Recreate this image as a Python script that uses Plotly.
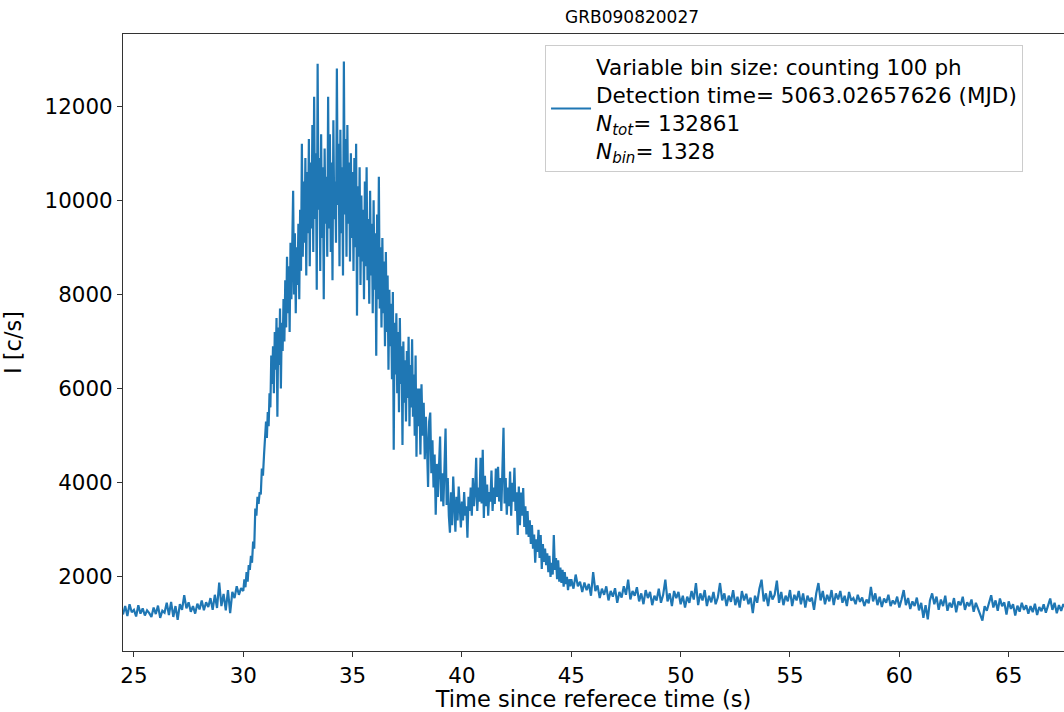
import plotly.graph_objects as go

# ---------------- data ----------------
title_text = "GRB090820027"
x_label = "Time since referece time (s)"
y_label = "I [c/s]"
legend_label = ("Variable bin size: counting 100 ph<br>"
                "Detection time= 5063.02657626 (MJD)<br>"
                "<i>N</i><sub><i>tot</i></sub>= 132861<br>"
                "<i>N</i><sub><i>bin</i></sub>= 1328")
x_ticks = [25, 30, 35, 40, 45, 50, 55, 60, 65]
y_ticks = [2000, 4000, 6000, 8000, 10000, 12000]

# pre-burst background
time_pre = [24.5, 24.6, 24.7, 24.8, 24.9, 25.0, 25.1, 25.2, 25.3, 25.4,
            25.5, 25.6, 25.7, 25.8, 25.9, 26.0, 26.1, 26.2, 26.3, 26.4,
            26.5, 26.6, 26.7, 26.8, 26.9, 27.0, 27.1, 27.2, 27.3, 27.4,
            27.5, 27.6, 27.7, 27.8, 27.9, 28.0, 28.1, 28.2, 28.3, 28.4,
            28.5, 28.6, 28.7, 28.8, 28.9, 29.0, 29.1, 29.2, 29.3, 29.4,
            29.5, 29.6, 29.7, 29.8, 29.9]
rate_pre = [1200, 1380, 1170, 1420, 1250, 1300, 1160, 1400, 1220, 1330,
            1180, 1290, 1230, 1150, 1350, 1210, 1390, 1130, 1280, 1240,
            1450, 1190, 1470, 1150, 1380, 1090, 1420, 1300, 1610, 1330,
            1460, 1260, 1380, 1220, 1430, 1310, 1500, 1290, 1460, 1360,
            1550, 1300, 1620, 1340, 1880, 1380, 1640, 1290, 1720, 1230,
            1680, 1550, 1800, 1620, 1760]

# onset
time_rise = [30.00, 30.05, 30.10, 30.15, 30.20, 30.25, 30.30, 30.35, 30.40, 30.45,
             30.50, 30.55, 30.60, 30.65, 30.70, 30.75, 30.80, 30.85, 30.90, 30.95]
rate_rise = [1700, 1950, 1780, 2100, 1900, 2250, 2150, 2450, 2300, 2750,
             2600, 3450, 3300, 3700, 3550, 3800, 3750, 4300, 4150, 4600]

# main peak
time_peak = [31.00, 31.04, 31.08, 31.12, 31.16, 31.20, 31.24, 31.28, 31.32, 31.36,
             31.40, 31.44, 31.48, 31.52, 31.56, 31.60, 31.64, 31.68, 31.72, 31.76,
             31.80, 31.84, 31.88, 31.92, 31.96, 32.00, 32.04, 32.08, 32.12, 32.16,
             32.20, 32.24, 32.28, 32.32, 32.36, 32.40, 32.44, 32.48, 32.52, 32.56,
             32.60, 32.64, 32.68, 32.72, 32.76, 32.80, 32.84, 32.88, 32.92, 32.96,
             33.00, 33.04, 33.08, 33.12, 33.16, 33.20, 33.24, 33.28, 33.32, 33.36,
             33.40, 33.44, 33.48, 33.52, 33.56, 33.60, 33.64, 33.68, 33.72, 33.76,
             33.80, 33.84, 33.88, 33.92, 33.96, 34.00, 34.04, 34.08, 34.12, 34.16,
             34.20, 34.24, 34.28, 34.32, 34.36, 34.40, 34.44, 34.48, 34.52, 34.56,
             34.60, 34.64, 34.68, 34.72, 34.76, 34.80, 34.84, 34.88, 34.92, 34.96,
             35.00, 35.04, 35.08, 35.12, 35.16, 35.20, 35.24, 35.28, 35.32, 35.36,
             35.40, 35.44, 35.48, 35.52, 35.56, 35.60, 35.64, 35.68, 35.72, 35.76,
             35.80, 35.84, 35.88, 35.92, 35.96, 36.00, 36.04, 36.08, 36.12, 36.16,
             36.20, 36.24, 36.28, 36.32, 36.36, 36.40, 36.44, 36.48, 36.52, 36.56,
             36.60, 36.64, 36.68, 36.72, 36.76, 36.80, 36.84, 36.88, 36.92, 36.96,
             37.00, 37.04, 37.08, 37.12, 37.16, 37.20, 37.24, 37.28, 37.32, 37.36,
             37.40, 37.44, 37.48, 37.52, 37.56, 37.60, 37.64, 37.68, 37.72, 37.76,
             37.80, 37.84, 37.88, 37.92, 37.96]
rate_peak = [4900, 5300, 4950, 5500, 5200, 5900, 5600, 6700, 6100, 6900,
             5900, 7200, 6400, 7500, 5400, 7300, 6500, 7700, 6000, 7400,
             6800, 7900, 7000, 8300, 7300, 8800, 7600, 8600, 7200, 9100,
             7900, 8800, 10200, 8000, 9300, 7600, 9000, 8200, 9500, 7900,
             9800, 8500, 11200, 8800, 10400, 9100, 10900, 8400, 10600, 9300,
             11300, 8600, 10800, 9400, 11600, 8900, 12200, 9600, 11000, 8100,
             12900, 9800, 10900, 8500, 11400, 9200, 10700, 7900, 11100, 9500,
             10500, 8800, 12200, 9400, 11400, 8900, 10800, 8300, 11700, 9600,
             10400, 9100, 12800, 9900, 11200, 8600, 11500, 9300, 10700, 8400,
             12950, 9700, 11300, 8800, 11600, 9500, 10800, 8700, 11000, 9200,
             10600, 8500, 10900, 9000, 11200, 7550, 10300, 8800, 10700, 8200,
             10100, 8700, 9800, 7900, 10400, 8600, 10700, 8300, 9600, 7800,
             10200, 8400, 9500, 7600, 10000, 8100, 9300, 6700, 9700, 7900,
             10500, 7700, 9000, 7300, 9200, 7600, 8700, 6900, 8900, 7200,
             8400, 6400, 8100, 6900, 7800, 6200, 8050, 4700, 7400, 6300,
             7600, 5900, 7200, 5500, 7500, 6100, 6900, 4800, 7000, 5700,
             6600, 5300, 6800, 5800, 7100, 5200, 6500, 5600, 7050, 5400,
             6300, 5000, 6700, 4550, 6000]

# decay and secondary bump
time_decay = [38.00, 38.05, 38.10, 38.15, 38.20, 38.25, 38.30, 38.35, 38.40, 38.45,
              38.50, 38.55, 38.60, 38.65, 38.70, 38.75, 38.80, 38.85, 38.90, 38.95,
              39.00, 39.05, 39.10, 39.15, 39.20, 39.25, 39.30, 39.35, 39.40, 39.45,
              39.50, 39.55, 39.60, 39.65, 39.70, 39.75, 39.80, 39.85, 39.90, 39.95,
              40.00, 40.05, 40.10, 40.15, 40.20, 40.25, 40.30, 40.35, 40.40, 40.45,
              40.50, 40.55, 40.60, 40.65, 40.70, 40.75, 40.80, 40.85, 40.90, 40.95,
              41.00, 41.05, 41.10, 41.15, 41.20, 41.25, 41.30, 41.35, 41.40, 41.45,
              41.50, 41.55, 41.60, 41.65, 41.70, 41.75, 41.80, 41.85, 41.90, 41.95,
              42.00, 42.05, 42.10, 42.15, 42.20, 42.25, 42.30, 42.35, 42.40, 42.45,
              42.50, 42.55, 42.60, 42.65, 42.70, 42.75, 42.80, 42.85, 42.90, 42.95,
              43.00, 43.05, 43.10, 43.15, 43.20, 43.25, 43.30, 43.35, 43.40, 43.45,
              43.50, 43.55, 43.60, 43.65, 43.70, 43.75, 43.80, 43.85, 43.90, 43.95,
              44.00, 44.05, 44.10, 44.15, 44.20, 44.25, 44.30, 44.35, 44.40, 44.45,
              44.50, 44.55, 44.60, 44.65, 44.70, 44.75, 44.80, 44.85, 44.90, 44.95]
rate_decay = [5200, 6000, 4600, 6090, 5000, 5700, 4500, 5400, 4800, 3910,
              5300, 5490, 4200, 4900, 3900, 4600, 3320, 4400, 3700, 4300,
              4980, 3600, 4200, 3500, 4600, 5150, 3530, 4100, 3300, 2940,
              3800, 3100, 4130, 3300, 2960, 3700, 3200, 3920, 3400, 3050,
              3600, 3200, 3800, 3300, 3500, 2830, 3700, 3400, 3900, 3300,
              4100, 3500, 3800, 4530, 3400, 3900, 3600, 4530, 3560, 4700,
              3250, 4150, 3500, 3960, 3300, 3800, 3600, 4260, 3400, 3900,
              3550, 4300, 3700, 4340, 3600, 4100, 3400, 4500, 5170, 3560,
              4100, 3320, 3900, 3500, 4240, 3300, 4000, 3600, 4320, 3400,
              3800, 2890, 3920, 3100, 3790, 3300, 3890, 3060, 3500, 2900,
              3400, 2850, 3200, 2700, 3100, 2600, 2900, 2300, 2800, 2530,
              3000, 2400, 2890, 2170, 2700, 2320, 2600, 2250, 2500, 2100,
              2450, 2000, 2300, 2050, 2890, 2150, 2400, 1950, 2350, 1900,
              2200, 1870, 2150, 1790, 2100, 1850, 2000, 1720, 1950, 1800]

# post-burst tail
time_tail = [45.0, 45.1, 45.2, 45.3, 45.4, 45.5, 45.6, 45.7, 45.8, 45.9,
             46.0, 46.1, 46.2, 46.3, 46.4, 46.5, 46.6, 46.7, 46.8, 46.9,
             47.0, 47.1, 47.2, 47.3, 47.4, 47.5, 47.6, 47.7, 47.8, 47.9,
             48.0, 48.1, 48.2, 48.3, 48.4, 48.5, 48.6, 48.7, 48.8, 48.9,
             49.0, 49.1, 49.2, 49.3, 49.4, 49.5, 49.6, 49.7, 49.8, 49.9,
             50.0, 50.1, 50.2, 50.3, 50.4, 50.5, 50.6, 50.7, 50.8, 50.9,
             51.0, 51.1, 51.2, 51.3, 51.4, 51.5, 51.6, 51.7, 51.8, 51.9,
             52.0, 52.1, 52.2, 52.3, 52.4, 52.5, 52.6, 52.7, 52.8, 52.9,
             53.0, 53.1, 53.2, 53.3, 53.4, 53.5, 53.6, 53.7, 53.8, 53.9,
             54.0, 54.1, 54.2, 54.3, 54.4, 54.5, 54.6, 54.7, 54.8, 54.9,
             55.0, 55.1, 55.2, 55.3, 55.4, 55.5, 55.6, 55.7, 55.8, 55.9,
             56.0, 56.1, 56.2, 56.3, 56.4, 56.5, 56.6, 56.7, 56.8, 56.9,
             57.0, 57.1, 57.2, 57.3, 57.4, 57.5, 57.6, 57.7, 57.8, 57.9,
             58.0, 58.1, 58.2, 58.3, 58.4, 58.5, 58.6, 58.7, 58.8, 58.9,
             59.0, 59.1, 59.2, 59.3, 59.4, 59.5, 59.6, 59.7, 59.8, 59.9,
             60.0, 60.1, 60.2, 60.3, 60.4, 60.5, 60.6, 60.7, 60.8, 60.9,
             61.0, 61.1, 61.2, 61.3, 61.4, 61.5, 61.6, 61.7, 61.8, 61.9,
             62.0, 62.1, 62.2, 62.3, 62.4, 62.5, 62.6, 62.7, 62.8, 62.9,
             63.0, 63.1, 63.2, 63.3, 63.4, 63.5, 63.6, 63.7, 63.8, 63.9,
             64.0, 64.1, 64.2, 64.3, 64.4, 64.5, 64.6, 64.7, 64.8, 64.9,
             65.0, 65.1, 65.2, 65.3, 65.4, 65.5, 65.6, 65.7, 65.8, 65.9,
             66.0, 66.1, 66.2, 66.3, 66.4, 66.5, 66.6, 66.7, 66.8, 66.9,
             67.0, 67.1, 67.2, 67.3, 67.4, 67.5, 67.6]
rate_tail = [1950, 1750, 2050, 1800, 1900, 1680, 1880, 1720, 1850, 1600,
             2100, 1700, 1820, 1550, 1750, 1620, 1800, 1500, 1700, 1580,
             1760, 1450, 1680, 1560, 1800, 1620, 1940, 1520, 1700, 1600,
             1780, 1480, 1650, 1420, 1720, 1550, 1680, 1400, 1600, 1500,
             1750, 1450, 1620, 1940, 1480, 1650, 1380, 1700, 1550, 1680,
             1420, 1600, 1350, 1580, 1450, 1700, 1520, 1870, 1400, 1650,
             1500, 1720, 1380, 1600, 1460, 1680, 1420, 1560, 1870, 1500,
             1650, 1380, 1600, 1470, 1720, 1400, 1580, 1350, 1700, 1500,
             1640, 1420, 1560, 1230, 1600, 1450, 1750, 1940, 1480, 1650,
             1380, 1700, 1520, 1620, 1920, 1450, 1680, 1400, 1600, 1480,
             1720, 1380, 1620, 1500, 1700, 1420, 1650, 1350, 1600, 1480,
             1560, 1300, 1650, 1870, 1500, 1700, 1420, 1620, 1480, 1720,
             1400, 1650, 1520, 1700, 1450, 1600, 1380, 1680, 1500, 1550,
             1420, 1620, 1470, 1560, 1380, 1520, 1440, 1790, 1480, 1650,
             1400, 1580, 1360, 1540, 1450, 1620, 1380, 1500, 1420, 1580,
             1350, 1520, 1720, 1400, 1550, 1320, 1480, 1380, 1560, 1290,
             1450, 1130, 1400, 1100, 1500, 1650, 1420, 1580, 1300, 1520,
             1380, 1600, 1280, 1450, 1350, 1550, 1250, 1480, 1400, 1580,
             1300, 1460, 1380, 1520, 1260, 1450, 1340, 1200, 1070, 1380,
             1280, 1450, 1610, 1350, 1500, 1280, 1540, 1380, 1460, 1200,
             1480, 1320, 1420, 1180, 1390, 1260, 1450, 1300, 1400, 1220,
             1380, 1250, 1430, 1190, 1360, 1270, 1420, 1240, 1380, 1540,
             1300, 1450, 1230, 1400, 1280, 1420, 1350]

time_s = time_pre + time_rise + time_peak + time_decay + time_tail
rate = rate_pre + rate_rise + rate_peak + rate_decay + rate_tail
assert len(time_s) == len(rate)

# ---------------- figure ----------------
FONT = "DejaVu Sans, Liberation Sans, sans-serif"
AX = "#333333"

fig = go.Figure()
fig.add_trace(go.Scatter(
    x=time_s, y=rate, mode="lines",
    line=dict(color="#1f77b4", width=2.2),
    name=legend_label, showlegend=True,
))

fig.update_layout(
    width=1064, height=712,
    margin=dict(l=123, r=0, t=34, b=61),
    paper_bgcolor="white", plot_bgcolor="white",
    font=dict(family=FONT, size=22, color="black"),
    title=dict(text=title_text, font=dict(size=17, color="black"),
               xref="paper", x=0.541, xanchor="center",
               yref="container", y=1 - 17 / 712, yanchor="middle"),
    showlegend=True,
    legend=dict(x=0.4485, y=0.982, xanchor="left", yanchor="top",
                bgcolor="white", bordercolor="#cccccc", borderwidth=1,
                font=dict(size=21.5, color="black"), valign="middle",
                itemwidth=40),
    xaxis=dict(range=[24.5, 67.53], tickvals=x_ticks,
               ticks="outside", ticklen=5, tickwidth=1.2, tickcolor=AX,
               showline=True, linecolor=AX, linewidth=1.2, mirror=True,
               showgrid=False, zeroline=False,
               tickfont=dict(size=21.4, color="black"),
               title=dict(text=x_label, font=dict(size=22.5, color="black"),
                          standoff=6)),
    yaxis=dict(range=[426, 13532], tickvals=y_ticks, tickformat="d",
               ticks="outside", ticklen=5, tickwidth=1.2, tickcolor=AX,
               showline=True, linecolor=AX, linewidth=1.2, mirror=False,
               showgrid=False, zeroline=False,
               tickfont=dict(size=21.4, color="black"),
               title=dict(text=y_label, font=dict(size=22.5, color="black"),
                          standoff=20)),
)

fig.write_html("out.html")
